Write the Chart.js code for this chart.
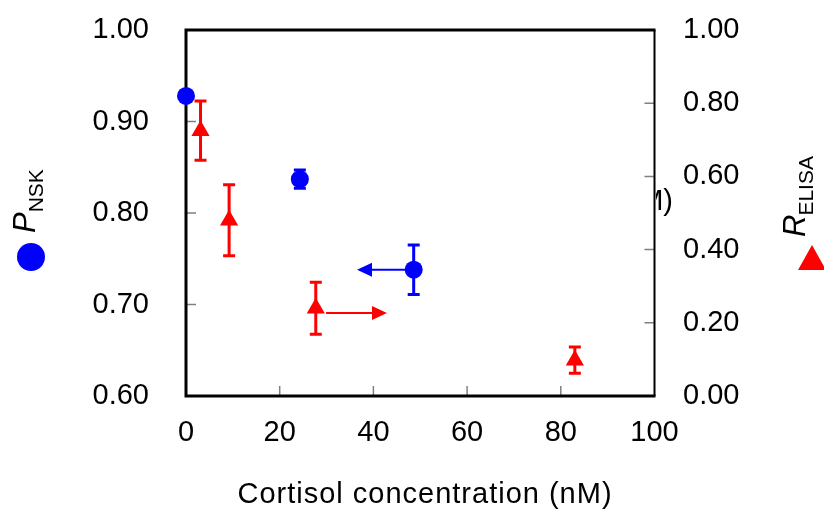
<!DOCTYPE html>
<html>
<head>
<meta charset="utf-8">
<script src="https://cdn.jsdelivr.net/npm/chart.js@4"></script>
<style>
html, body { margin: 0; padding: 0; background: #fff; }
</style>
</head>
<body>
<canvas id="chart" width="824" height="509"></canvas>
<script>
// P_NSK, left axis
const pnskX = [0, 24.3, 48.6];
const pnskY = [0.928, 0.837, 0.738];
const pnskErr = [0, 0.010, 0.027];

// R_ELISA, right axis
const relisaX = [3.1, 9.2, 27.7, 83.0];
const relisaY = [0.725, 0.480, 0.240, 0.098];
const relisaErr = [0.081, 0.097, 0.071, 0.036];

// arrows: [fromX, toX, y]
const arrowBlue = [48.6, 36.5, 0.738];
const arrowRed = [29.9, 42.9, 0.227];

// tick labels
const xTicks = [0, 20, 40, 60, 80, 100];
const leftTicks = [0.6, 0.7, 0.8, 0.9, 1.0];
const rightTicks = [0, 0.2, 0.4, 0.6, 0.8, 1.0];

const FONT = '"Liberation Sans", Arial, sans-serif';
const BLUE = '#0000ff';
const RED = '#ff0000';

function errorBar(ctx, px, py1, py2) {
    ctx.beginPath();
    ctx.moveTo(px, py1); ctx.lineTo(px, py2);
    ctx.moveTo(px - 6, py1); ctx.lineTo(px + 6, py1);
    ctx.moveTo(px - 6, py2); ctx.lineTo(px + 6, py2);
    ctx.stroke();
}

function arrow(ctx, x1, x2, y) {
    const dir = x2 > x1 ? 1 : -1;
    const base = x2 - dir * 15;
    ctx.beginPath();
    ctx.moveTo(x1, y); ctx.lineTo(base, y);
    ctx.stroke();
    ctx.beginPath();
    ctx.moveTo(x2, y);
    ctx.lineTo(base, y - 7);
    ctx.lineTo(base, y + 7);
    ctx.closePath();
    ctx.fill();
}

const decor = {
    id: 'decor',
    beforeDatasetsDraw(chart) {
        const { ctx, chartArea: a, scales } = chart;
        const sx = scales.x, sy = scales.y, sy2 = scales.y2;
        ctx.save();

        // inward tick marks
        ctx.strokeStyle = '#808080';
        ctx.lineWidth = 1.5;
        ctx.beginPath();
        xTicks.slice(1, -1).forEach(v => {
            const p = sx.getPixelForValue(v);
            ctx.moveTo(p, a.bottom); ctx.lineTo(p, a.bottom - 10);
        });
        leftTicks.slice(1, -1).forEach(v => {
            const p = sy.getPixelForValue(v);
            ctx.moveTo(a.left, p); ctx.lineTo(a.left + 10, p);
        });
        rightTicks.slice(1, -1).forEach(v => {
            const p = sy2.getPixelForValue(v);
            ctx.moveTo(a.right, p); ctx.lineTo(a.right - 10, p);
        });
        ctx.stroke();

        // frame
        ctx.strokeStyle = '#000';
        ctx.lineWidth = 3;
        ctx.beginPath();
        ctx.moveTo(a.left, a.top - 1.5); ctx.lineTo(a.left, a.bottom + 1.5);
        ctx.moveTo(a.left, a.bottom); ctx.lineTo(a.right + 1, a.bottom);
        ctx.moveTo(a.left, a.top); ctx.lineTo(a.right + 1, a.top);
        ctx.stroke();
        ctx.lineWidth = 2;
        ctx.beginPath();
        ctx.moveTo(a.right, a.top); ctx.lineTo(a.right, a.bottom);
        ctx.stroke();

        // error bars
        ctx.lineWidth = 3;
        ctx.strokeStyle = BLUE;
        pnskX.forEach((x, i) => {
            if (!pnskErr[i]) return;
            errorBar(ctx, sx.getPixelForValue(x),
                sy.getPixelForValue(pnskY[i] + pnskErr[i]),
                sy.getPixelForValue(pnskY[i] - pnskErr[i]));
        });
        ctx.strokeStyle = RED;
        relisaX.forEach((x, i) => {
            errorBar(ctx, sx.getPixelForValue(x),
                sy2.getPixelForValue(relisaY[i] + relisaErr[i]),
                sy2.getPixelForValue(relisaY[i] - relisaErr[i]));
        });

        // arrows
        ctx.lineWidth = 2;
        ctx.strokeStyle = BLUE; ctx.fillStyle = BLUE;
        arrow(ctx, sx.getPixelForValue(arrowBlue[0]), sx.getPixelForValue(arrowBlue[1]), sy.getPixelForValue(arrowBlue[2]));
        ctx.strokeStyle = RED; ctx.fillStyle = RED;
        arrow(ctx, sx.getPixelForValue(arrowRed[0]), sx.getPixelForValue(arrowRed[1]), sy2.getPixelForValue(arrowRed[2]));

        ctx.restore();
    },
    afterDraw(chart) {
        const { ctx, chartArea: a } = chart;
        ctx.save();
        ctx.fillStyle = '#000';
        ctx.textBaseline = 'alphabetic';

        // x axis title
        ctx.font = '29px ' + FONT;
        ctx.letterSpacing = '1px';
        ctx.textAlign = 'center';
        ctx.fillText('Cortisol concentration (nM)', 425, 503);
        ctx.letterSpacing = '0px';

        // left axis title P_NSK
        ctx.textAlign = 'left';
        ctx.save();
        ctx.translate(35, 233);
        ctx.rotate(-Math.PI / 2);
        ctx.font = 'italic 31px ' + FONT;
        ctx.fillText('P', 0, 0);
        const wp = ctx.measureText('P').width;
        ctx.font = '21px ' + FONT;
        ctx.fillText('NSK', wp, 8);
        ctx.restore();

        // right axis title R_ELISA
        ctx.save();
        ctx.translate(805, 237);
        ctx.rotate(-Math.PI / 2);
        ctx.font = 'italic 31px ' + FONT;
        ctx.fillText('R', 0, 0);
        const wr = ctx.measureText('R').width;
        ctx.font = '21px ' + FONT;
        ctx.fillText('ELISA', wr - 1, 8);
        ctx.restore();

        // series glyphs next to the axis titles
        ctx.fillStyle = BLUE;
        ctx.beginPath();
        ctx.arc(31, 257, 14, 0, Math.PI * 2);
        ctx.fill();
        ctx.fillStyle = RED;
        ctx.beginPath();
        ctx.moveTo(812, 245);
        ctx.lineTo(826, 270);
        ctx.lineTo(798, 270);
        ctx.closePath();
        ctx.fill();

        // leftover label fragment right of the plot
        ctx.save();
        ctx.beginPath();
        ctx.rect(a.right + 1.5, 180, 40, 50);
        ctx.clip();
        ctx.fillStyle = '#000';
        ctx.font = '29px ' + FONT;
        ctx.textAlign = 'right';
        ctx.fillText('M)', 673, 210);
        ctx.restore();

        ctx.restore();
    }
};

const tickFont = { family: FONT, size: 29 };

function fitY(width) {
    return s => { s.width = width; s.paddingTop = 0; s.paddingBottom = 0; };
}

new Chart(document.getElementById('chart'), {
    type: 'scatter',
    data: {
        datasets: [
            {
                label: 'PNSK',
                data: pnskX.map((x, i) => ({ x: x, y: pnskY[i] })),
                yAxisID: 'y',
                pointStyle: 'circle',
                pointRadius: 9,
                backgroundColor: BLUE,
                borderColor: BLUE,
                borderWidth: 0,
                clip: false
            },
            {
                label: 'RELISA',
                data: relisaX.map((x, i) => ({ x: x, y: relisaY[i] })),
                yAxisID: 'y2',
                pointStyle: 'triangle',
                pointRadius: 10.5,
                backgroundColor: RED,
                borderColor: RED,
                borderWidth: 0,
                clip: false
            }
        ]
    },
    options: {
        responsive: false,
        animation: false,
        devicePixelRatio: 1,
        layout: { padding: { top: 30 } },
        plugins: { legend: { display: false }, tooltip: { enabled: false } },
        scales: {
            x: {
                type: 'linear', min: 0, max: 100,
                afterBuildTicks: s => { s.ticks = xTicks.map(v => ({ value: v })); },
                afterFit: s => { s.height = 113; s.paddingLeft = 0; s.paddingRight = 0; },
                grid: { display: false, drawTicks: false },
                border: { display: false },
                ticks: { font: tickFont, color: '#000', padding: 20, callback: v => String(v) }
            },
            y: {
                position: 'left', min: 0.6, max: 1.0,
                afterBuildTicks: s => { s.ticks = leftTicks.map(v => ({ value: v })); },
                afterFit: fitY(186),
                grid: { display: false, drawTicks: false },
                border: { display: false },
                ticks: { font: tickFont, color: '#000', padding: 37, callback: v => v.toFixed(2) }
            },
            y2: {
                position: 'right', min: 0, max: 1.0,
                afterBuildTicks: s => { s.ticks = rightTicks.map(v => ({ value: v })); },
                afterFit: fitY(169.5),
                grid: { display: false, drawTicks: false },
                border: { display: false },
                ticks: { font: tickFont, color: '#000', padding: 28.5, callback: v => v.toFixed(2) }
            }
        }
    },
    plugins: [decor]
});
</script>
</body>
</html>
